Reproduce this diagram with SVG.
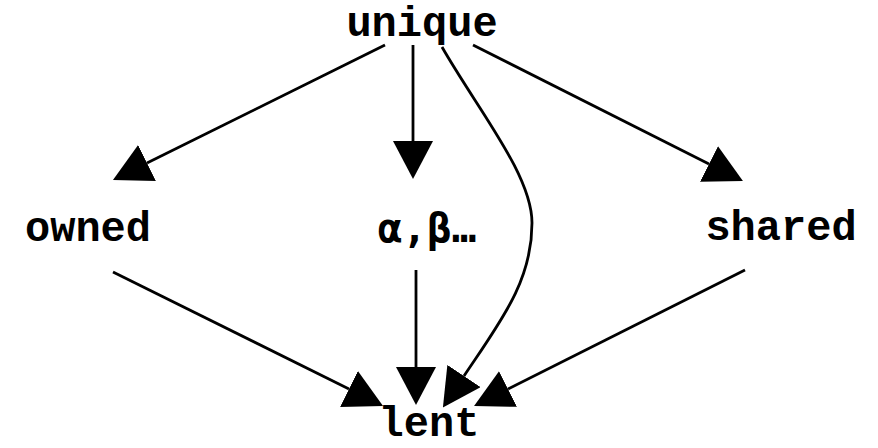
<svg xmlns="http://www.w3.org/2000/svg" width="878" height="448" viewBox="0 0 878 448">
<style>
.lbl{font-family:"Liberation Mono","Courier New",monospace;font-weight:bold;font-size:42px;fill:#000;text-anchor:middle}
.gr{font-family:"DejaVu Sans Mono","DejaVu Sans",monospace;font-weight:bold;font-size:41px;fill:#000;text-anchor:middle}
.e{fill:none;stroke:#000;stroke-width:2.8;marker-end:url(#ah)}
</style>
<defs>
<marker id="ah" markerUnits="userSpaceOnUse" viewBox="0 -20 38 40" markerWidth="38" markerHeight="40" refX="0" refY="0" orient="auto">
<path d="M0,-20 L38,0 L0,20 z" fill="#000"/>
</marker>
</defs>
<rect width="878" height="448" fill="#fff"/>
<g id="connectors">
<path class="e" d="M385,45 L147,163"/>
<path class="e" d="M413,45 L413,141"/>
<path class="e" d="M442,47 C478,110 532,175 532,223 C532,282 500,322 464,376"/>
<path class="e" d="M473,45 L709,164"/>
<path class="e" d="M113,272 L349,389"/>
<path class="e" d="M416,270 L416,367"/>
<path class="e" d="M745,270 L508,389"/>
</g>
<g id="unique"><text class="lbl" x="422" y="36">unique</text></g>
<g id="owned"><text class="lbl" x="88" y="241">owned</text></g>
<g id="alphabeta"><text class="gr" x="427" y="242">α,β…</text></g>
<g id="shared"><text class="lbl" x="781" y="240">shared</text></g>
<g id="lent"><text class="lbl" x="429" y="436">lent</text></g>
</svg>
